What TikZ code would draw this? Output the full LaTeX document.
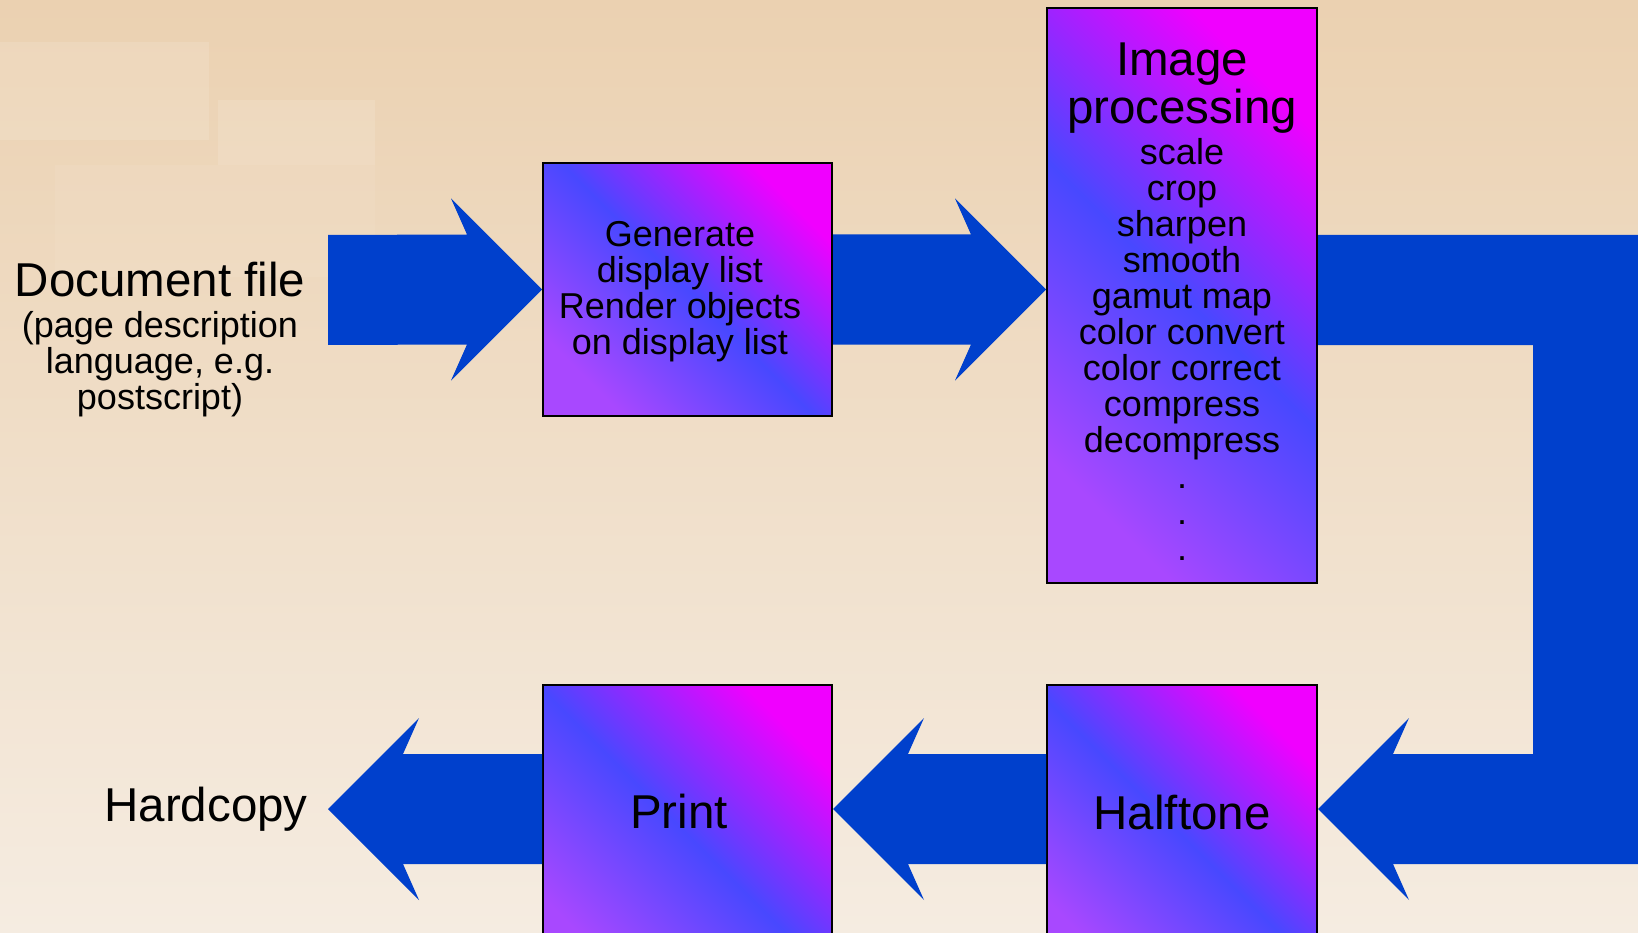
\documentclass[tikz,border=0pt]{standalone}
\usepackage{fontspec}
\setmainfont{Liberation Sans}
\usetikzlibrary{positioning,calc}
\definecolor{bgtop}{HTML}{EBD1B1}
\definecolor{bgbot}{HTML}{F5ECE1}
\definecolor{flowblue}{HTML}{0040CC}
\definecolor{boxmag}{HTML}{F000FF}
\definecolor{boxblue}{HTML}{4848FF}
\definecolor{boxpurp}{HTML}{A848FF}
\newcommand{\fbig}{\fontsize{47.5}{48}\selectfont}
\newcommand{\fsmall}{\fontsize{36}{36}\selectfont}
\begin{document}
\begin{tikzpicture}[x=1pt, y=-1pt, node distance={0pt},
        stage/.style = {draw=black, line width=2pt, inner sep=0pt, top color=boxmag, bottom color=boxpurp, middle color=boxblue, shading angle=-45},
        flow/.style = {fill=flowblue},
        word/.style = {inner sep=0pt, align=center, font=\fbig},
        list/.style = {inner sep=0pt, align=center, font=\fsmall}]
        \useasboundingbox (0,0) rectangle (1638,933);
        \shade[top color=bgtop, bottom color=bgbot] (0,0) rectangle (1638,933);
        \fill[white, opacity=0.12] (0,42) rectangle (209,140);
        \fill[white, opacity=0.12] (218,100) rectangle (375,165);
        \fill[white, opacity=0.06] (55,165) rectangle (375,277);
        % rows and free ends
        \coordinate (row1) at (0,290);
        \coordinate (row2) at (0,809);
        \coordinate (t0) at (328,290);
        \coordinate (t6) at (328,809);
        % boxes
        \node[stage, minimum width=289, minimum height=253] (2) at (687.5,289.5) {};
        \node[stage, minimum width=270, minimum height=575] (3) at (1182,295.5) {};
        \node[stage, minimum width=270, minimum height=300, anchor=north] (4) at (1182,684) {};
        \node[stage, minimum width=289, minimum height=300, anchor=north] (5) at (687.5,684) {};
        % block arrows
        \fill[flow] (2.west) -- ++(-91,-91) -- ++(16,36) -- ($(t0)+(0,-55)$) -- ($(t0)+(0,55)$) -- ($(2.west)+(-75,55)$) -- ++(-16,36) -- cycle;
        \fill[flow] (3.west |- 2.west) -- ++(-91,-91) -- ++(16,36) -- ($(2.east)+(0,-55)$) -- ($(2.east)+(0,55)$) -- ($(3.west |- 2.west)+(-75,55)$) -- ++(-16,36) -- cycle;
        \fill[flow] ($(3.east |- row1)+(0,-55)$) -- ++(323,0) -- ++(0,629) -- ($(4.east |- row2)+(75,55)$) -- ++(16,36) -- (4.east |- row2) -- ++(91,-91) -- ++(-16,36) -- ++(140,0) -- ++(0,-409) -- ($(3.east |- row1)+(0,55)$) -- cycle;
        \fill[flow] (5.east |- row2) -- ++(91,-91) -- ++(-16,36) -- ($(4.west |- row2)+(0,-55)$) -- ($(4.west |- row2)+(0,55)$) -- ($(5.east |- row2)+(75,55)$) -- ++(16,36) -- cycle;
        \fill[flow] (t6) -- ++(91,-91) -- ++(-16,36) -- ($(5.west |- row2)+(0,-55)$) -- ($(5.west |- row2)+(0,55)$) -- ($(t6)+(75,55)$) -- ++(16,36) -- cycle;
        % texts
        \node[word] (1) at (160,280) {Document file};
        \node[list] (1a) at (160,364) {(page description\\language, e.g.\\postscript)};
        \node[list] (2a) at (680,291.5) {Generate\\display list\\Render objects\\on display list};
        \node[word] (3a) at (1182,88) {Image\\processing};
        \node[list] (3b) at (1182,349) {scale\\crop\\sharpen\\smooth\\gamut map\\color convert\\color correct\\compress\\decompress\\.\\.\\.};
        \node[word] (4a) at (1182,813) {Halftone};
        \node[word] (5a) at (679,811) {Print};
        \node[word] (6) at (206,809) {Hardcopy};
    \end{tikzpicture}
\end{document}
